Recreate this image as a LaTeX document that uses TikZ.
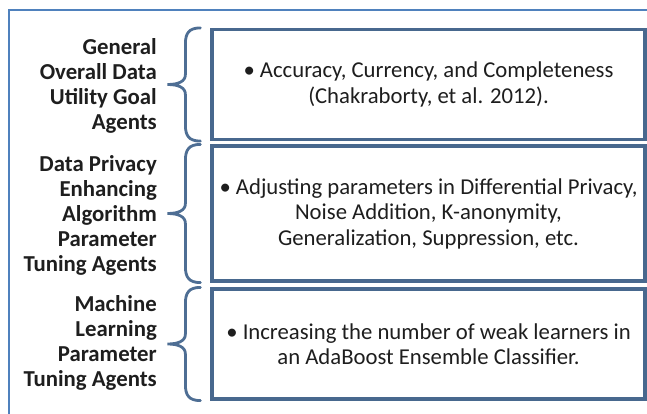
\documentclass[tikz,border=0pt]{standalone}
\usepackage{fontspec}
\setmainfont{Carlito}
\usetikzlibrary{calc}
\definecolor{framec}{RGB}{79,129,189}
\definecolor{boxc}{RGB}{72,104,142}
\definecolor{bracec}{RGB}{78,110,148}
\definecolor{txt}{RGB}{30,30,30}
\tikzset{
  lab/.style={anchor=east, align=right, text=txt, font=\fontsize{22.8}{25}\selectfont\bfseries, inner sep=0pt},
  box/.style={draw=boxc, line width=3.2pt, fill=white, minimum width=433pt, align=center, text=txt, font=\fontsize{22.7}{25.5}\selectfont, inner sep=0pt},
  bracestyle/.style={draw=bracec, line width=2.8pt, line cap=round}
}
\newcommand{\mybrace}[1]{%
  \draw[bracestyle] ($(#1.north west)+(-10,0)$) coordinate (t)
    .. controls ($(t)+(-12,0)$) and ($(t)+(-15,6)$) .. ($(t)+(-15,16)$)
    -- ($(#1.west)+(-25,-10)$)
    .. controls ($(#1.west)+(-25,-3)$) and ($(#1.west)+(-32,0)$) .. ($(#1.west)+(-43,0)$)
    .. controls ($(#1.west)+(-32,0)$) and ($(#1.west)+(-25,3)$) .. ($(#1.west)+(-25,10)$)
    -- ($(#1.south west)+(-25,-16)$)
    .. controls ($(#1.south west)+(-25,-6)$) and ($(#1.south west)+(-22,0)$) .. ($(#1.south west)+(-10,0)$);
}
\begin{document}
\begin{tikzpicture}[x=1pt,y=-1pt]
\useasboundingbox (0,0) rectangle (647,414);
\clip (0,0) rectangle (647,414);
\draw[framec, line width=2pt] (9,10) rectangle (680,440);
\node[box, minimum height=110pt] (b1) at (428.5,84.5) {• Accuracy, Currency, and Completeness\\(Chakraborty, et al. 2012).};
\node[box, minimum height=135pt] (b2) at (428.5,213.5) {• Adjusting parameters in Differential Privacy,\\Noise Addition, K-anonymity,\\Generalization, Suppression, etc.};
\node[box, minimum height=110pt] (b3) at (428.5,344) {• Increasing the number of weak learners in\\an AdaBoost Ensemble Classifier.};
\node[lab] (l1) at (157,85.5) {General\\Overall Data\\Utility Goal\\Agents};
\node[lab] (l2) at (157,215) {Data Privacy\\Enhancing\\Algorithm\\Parameter\\Tuning Agents};
\node[lab] (l3) at (157,342.5) {Machine\\Learning\\Parameter\\Tuning Agents};
\mybrace{b1}
\mybrace{b2}
\mybrace{b3}
\end{tikzpicture}
\end{document}
